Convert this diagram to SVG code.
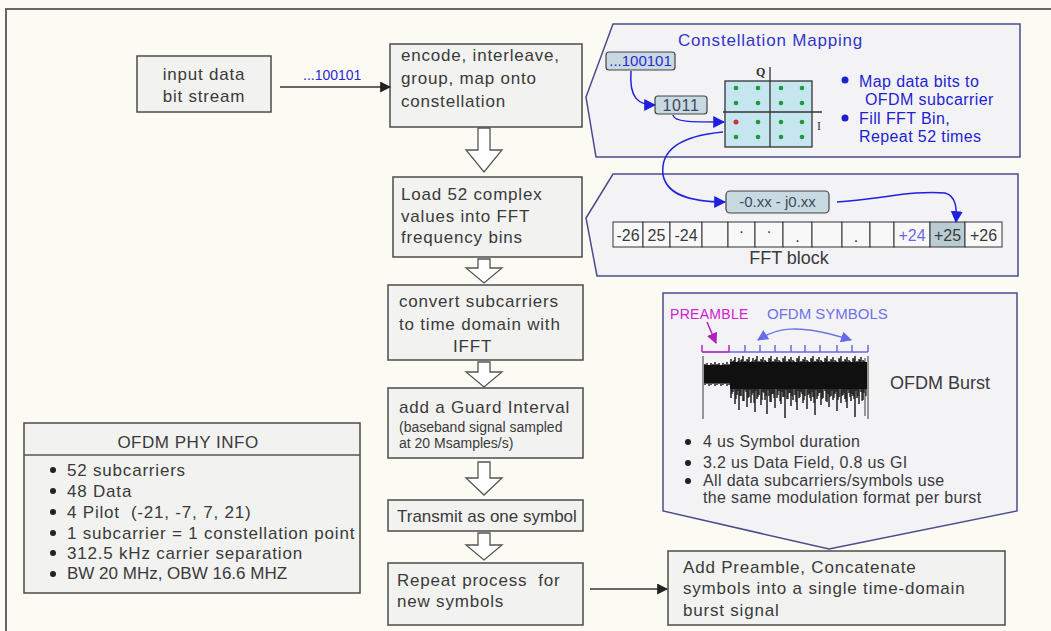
<svg xmlns="http://www.w3.org/2000/svg" width="1051" height="631" viewBox="0 0 1051 631">
<style>
.t{font-family:"Liberation Sans",Arial,sans-serif;fill:#3a3a3a}
.m{font-size:17px;letter-spacing:0.8px}
.box{fill:#f2f2f0;stroke:#555;stroke-width:1.6}
.panel{fill:#f3f3f6;stroke:#4b4b8f;stroke-width:1.5}
.barrow{fill:#fff;stroke:#555;stroke-width:1.3}
.bl{fill:#1f1fd0}
.bcurve{fill:none;stroke:#2020e0;stroke-width:1.5}
.cell{fill:#f8f8f8;stroke:#333;stroke-width:1}
.dot{fill:#1a9a3a}
</style>
<defs>
<marker id="ablue" viewBox="0 0 10 10" refX="9" refY="5" markerWidth="12" markerHeight="12" markerUnits="userSpaceOnUse" orient="auto"><path d="M0,0L10,5L0,10z" fill="#1f1fe0"/></marker>
<marker id="ablack" viewBox="0 0 10 10" refX="9" refY="5" markerWidth="11" markerHeight="11" markerUnits="userSpaceOnUse" orient="auto"><path d="M0,0L10,5L0,10z" fill="#222"/></marker>
<marker id="amag" viewBox="0 0 10 10" refX="9" refY="5" markerWidth="11" markerHeight="11" markerUnits="userSpaceOnUse" orient="auto"><path d="M0,0L10,5L0,10z" fill="#b020c0"/></marker>
<marker id="alb" viewBox="0 0 10 10" refX="9" refY="5" markerWidth="11" markerHeight="11" markerUnits="userSpaceOnUse" orient="auto-start-reverse"><path d="M0,0L10,5L0,10z" fill="#6a6ae8"/></marker>
</defs>
<rect width="1051" height="631" fill="#fbfbf4"/>
<path d="M6,631V9H1051" fill="none" stroke="#666" stroke-width="2"/>

<g id="panel-constellation">
<path class="panel" d="M613,24H1020V157H596L586,97Z"/>
<text class="t" x="678" y="46" style="font-size:17px;letter-spacing:0.8px;fill:#3333cc">Constellation Mapping</text>
<rect x="606" y="52" width="69" height="18" rx="3" fill="#c9d9e1" stroke="#444" stroke-width="1.2"/>
<text class="t" x="640.5" y="66" text-anchor="middle" style="font-size:15px;fill:#2a2ad0">...100101</text>
<rect x="655" y="96" width="52" height="18" rx="3" fill="#c9d9e1" stroke="#444" stroke-width="1.2"/>
<text class="t" x="681" y="111" text-anchor="middle" style="font-size:16px;letter-spacing:0.6px;fill:#3a4a5a">1011</text>
<rect x="725" y="81" width="87" height="66" fill="#c5e5ef" stroke="#333" stroke-width="1.3"/>
<line x1="770" y1="67" x2="770" y2="147" stroke="#333" stroke-width="1.3"/>
<line x1="723" y1="112" x2="822" y2="112" stroke="#333" stroke-width="1.3"/>
<text x="756" y="76" style="font-family:'Liberation Serif',serif;font-size:12px;font-weight:bold;fill:#333">Q</text>
<text x="817" y="130" style="font-family:'Liberation Serif',serif;font-size:12px;fill:#333">I</text>
<g class="dot">
<circle cx="736" cy="88" r="2.3"/><circle cx="758" cy="88" r="2.3"/><circle cx="781" cy="88" r="2.3"/><circle cx="802" cy="88" r="2.3"/>
<circle cx="736" cy="103" r="2.3"/><circle cx="758" cy="103" r="2.3"/><circle cx="781" cy="103" r="2.3"/><circle cx="802" cy="103" r="2.3"/>
<circle cx="758" cy="122" r="2.3"/><circle cx="781" cy="122" r="2.3"/><circle cx="802" cy="122" r="2.3"/>
<circle cx="736" cy="137" r="2.3"/><circle cx="758" cy="137" r="2.3"/><circle cx="781" cy="137" r="2.3"/><circle cx="802" cy="137" r="2.3"/>
</g>
<circle cx="736" cy="122" r="2.5" fill="#d03030"/>
<circle class="bl" cx="845" cy="80" r="3.5"/>
<circle class="bl" cx="845" cy="118" r="3.5"/>
<text class="t" style="font-size:16px;letter-spacing:0.4px;fill:#1f1fd0"><tspan x="859" y="87">Map data bits to</tspan><tspan x="865" y="105">OFDM subcarrier</tspan><tspan x="859" y="124">Fill FFT Bin,</tspan><tspan x="859" y="142">Repeat 52 times</tspan></text>
</g>

<g id="panel-fft">
<path class="panel" d="M613,174H1018V276H597L586,218Z"/>
<rect x="726" y="191" width="103" height="22" rx="4" fill="#c9d9e1" stroke="#444" stroke-width="1.2"/>
<text class="t" x="777.5" y="207" text-anchor="middle" style="font-size:15px;fill:#3a4a5a">-0.xx - j0.xx</text>
<rect class="cell" x="613" y="222" width="30" height="25"/>
<rect class="cell" x="643" y="222" width="27" height="25"/>
<rect class="cell" x="670" y="222" width="32" height="25"/>
<rect class="cell" x="702" y="222" width="26" height="25"/>
<rect class="cell" x="728" y="222" width="27" height="25"/>
<rect class="cell" x="755" y="222" width="28" height="25"/>
<rect class="cell" x="783" y="222" width="29" height="25"/>
<rect class="cell" x="812" y="222" width="30" height="25"/>
<rect class="cell" x="842" y="222" width="28" height="25"/>
<rect class="cell" x="870" y="222" width="24" height="25"/>
<rect class="cell" x="894" y="222" width="36" height="25"/>
<rect x="930" y="222" width="35" height="25" fill="#b9cbd3" stroke="#333" stroke-width="1"/>
<rect class="cell" x="965" y="222" width="37" height="25"/>
<g class="t" style="font-size:16px" text-anchor="middle">
<text x="628" y="241">-26</text><text x="656.5" y="241">25</text><text x="686" y="241">-24</text>
<text x="741.5" y="233">.</text><text x="769" y="233">.</text><text x="797.5" y="242">.</text><text x="856" y="242">.</text>
<text x="912" y="241" style="fill:#6a6ae0">+24</text><text x="947.5" y="241">+25</text><text x="983.5" y="241">+26</text>
</g>
<text class="t" x="789" y="264" text-anchor="middle" style="font-size:18px">FFT block</text>
</g>

<g id="panel-burst">
<path class="panel" d="M663,293H1017V511L829,549L663,511Z"/>
<text class="t" x="670" y="319" style="font-size:14px;letter-spacing:0.3px;fill:#d020d0">PREAMBLE</text>
<text class="t" x="767" y="319" style="font-size:15px;fill:#7070e8">OFDM SYMBOLS</text>
<path d="M707,322L716,343" fill="none" stroke="#b020c0" stroke-width="1.5" marker-end="url(#amag)"/>
<path d="M758,340C775,329 795,322 851,340" fill="none" stroke="#7070e8" stroke-width="1.5" marker-start="url(#alb)" marker-end="url(#alb)"/>
<path d="M702,352H868" stroke="#6a6ae0" stroke-width="1.5"/>
<path d="M702,352H729M702,345V352M729,345V352" stroke="#c030c0" stroke-width="1.6"/>
<path d="M745,345V352M760,345V352M775,345V352M791,345V352M805,345V352M820,345V352M837,345V352M852,345V352M868,345V352" stroke="#6a6ae0" stroke-width="1.5"/>
<path d="M703,356V419M868,356V419M865,358V416" stroke="#777" stroke-width="1.5"/>
<rect x="704" y="365" width="27" height="18" fill="#111"/>
<rect x="730" y="362" width="137" height="27" fill="#111"/>
<path stroke="#111" stroke-width="1.4" d="M705,364V385M707,363V384M709,365V386M711,363V385M713,364V384M715,362V386M717,364V385M719,363V384M721,365V386M723,363V385M725,364V384M727,362V386M729,364V385M731,359V398M733,361V392M735,357V404M737,362V395M739,358V410M741,360V396M743,356V401M745,361V390M747,359V407M749,357V397M751,362V403M753,358V393M755,360V412M757,356V399M759,361V395M761,359V405M763,357V392M765,360V400M767,362V414M769,358V396M771,356V402M773,361V394M775,359V408M777,357V398M779,360V391M781,362V404M783,358V397M785,356V418M787,361V399M789,359V393M791,357V406M793,360V400M795,362V395M797,358V410M799,356V398M801,361V392M803,359V403M805,357V396M807,360V409M809,362V394M811,358V401M813,356V397M815,361V415M817,359V399M819,357V393M821,360V405M823,362V398M825,358V391M827,356V402M829,361V407M831,359V396M833,357V400M835,360V394M837,362V411M839,358V397M841,356V403M843,361V395M845,359V399M847,357V408M849,360V393M851,362V401M853,358V396M855,356V417M857,361V398M859,359V404M861,357V392M863,360V400"/>
<path stroke="#111" stroke-width="1.2" d="M732,363V394M734,360V389M736,364V399M738,361V391M740,365V396M742,359V388M744,362V401M746,364V392M748,360V398M750,363V390M752,361V395M754,365V403M756,359V391M758,362V397M760,364V389M762,360V400M764,363V393M766,361V396M768,365V390M770,359V402M772,362V394M774,364V398M776,360V389M778,363V395M780,361V401M782,365V392M784,359V397M786,362V390M788,364V399M790,360V393M792,363V396M794,361V388M796,365V402M798,359V391M800,362V397M802,364V394M804,360V400M806,363V389M808,361V395M810,365V398M812,359V392M814,362V403M816,364V390M818,360V396M820,363V393M822,361V399M824,365V388M826,359V401M828,362V394M830,364V397M832,360V391M834,363V398M836,361V392M838,365V400M840,359V389M842,362V396M844,364V393M846,360V402M848,363V390M850,361V397M852,365V394M854,359V399M856,362V391M858,364V396M860,360V388M862,363V401M864,361V393M866,362V396"/>
<text class="t" x="890" y="389" style="font-size:18px">OFDM Burst</text>
<circle cx="688" cy="442" r="3" fill="#222"/><circle cx="688" cy="463" r="3" fill="#222"/><circle cx="688" cy="481" r="3" fill="#222"/>
<text class="t" style="font-size:16px;letter-spacing:0.35px"><tspan x="703" y="447">4 us Symbol duration</tspan><tspan x="703" y="468">3.2 us Data Field, 0.8 us GI</tspan><tspan x="703" y="486">All data subcarriers/symbols use</tspan><tspan x="703" y="503">the same modulation format per burst</tspan></text>
</g>

<g id="node-input">
<rect class="box" x="137" y="56" width="134" height="56"/>
<text class="t m" text-anchor="middle"><tspan x="204" y="80">input data</tspan><tspan x="204" y="102">bit stream</tspan></text>
</g>
<g id="node-encode">
<rect class="box" x="390" y="44" width="192" height="83"/>
<text class="t m"><tspan x="401" y="61">encode, interleave,</tspan><tspan x="401" y="84">group, map onto</tspan><tspan x="401" y="107">constellation</tspan></text>
</g>
<g id="node-load">
<rect class="box" x="393" y="177" width="189" height="80"/>
<text class="t m"><tspan x="401" y="200">Load 52 complex</tspan><tspan x="401" y="222">values into FFT</tspan><tspan x="401" y="243">frequency bins</tspan></text>
</g>
<g id="node-ifft">
<rect class="box" x="388" y="285" width="195" height="75"/>
<text class="t m"><tspan x="399" y="307">convert subcarriers</tspan><tspan x="399" y="330">to time domain with</tspan><tspan x="453" y="352">IFFT</tspan></text>
</g>
<g id="node-guard">
<rect class="box" x="388" y="388" width="195" height="70"/>
<text class="t m" x="399" y="413">add a Guard Interval</text>
<text class="t" style="font-size:14px"><tspan x="399" y="432">(baseband signal sampled</tspan><tspan x="399" y="448">at 20 Msamples/s)</tspan></text>
</g>
<g id="node-transmit">
<rect class="box" x="388" y="500" width="195" height="31"/>
<text class="t" x="397" y="522" style="font-size:17px">Transmit as one symbol</text>
</g>
<g id="node-repeat">
<rect class="box" x="388" y="563" width="195" height="62"/>
<text class="t m" xml:space="preserve"><tspan x="397" y="586">Repeat process  for</tspan><tspan x="397" y="607">new symbols</tspan></text>
</g>
<g id="node-burst">
<rect class="box" x="668" y="551" width="337" height="74"/>
<text class="t m"><tspan x="683" y="573">Add Preamble, Concatenate</tspan><tspan x="683" y="594">symbols into a single time-domain</tspan><tspan x="683" y="616">burst signal</tspan></text>
</g>
<g id="node-phyinfo">
<rect class="box" x="24" y="423" width="336" height="170"/>
<line x1="24" y1="455" x2="360" y2="455" stroke="#555" stroke-width="1.6"/>
<text class="t" x="188" y="448" text-anchor="middle" style="font-size:17px;letter-spacing:0.5px">OFDM PHY INFO</text>
<g fill="#222"><circle cx="53" cy="470" r="3"/><circle cx="53" cy="491" r="3"/><circle cx="53" cy="512" r="3"/><circle cx="53" cy="533" r="3"/><circle cx="53" cy="553" r="3"/><circle cx="53" cy="574" r="3"/></g>
<text class="t m" xml:space="preserve"><tspan x="67" y="476">52 subcarriers</tspan><tspan x="67" y="497">48 Data</tspan><tspan x="67" y="518">4 Pilot  (-21, -7, 7, 21)</tspan><tspan x="67" y="539">1 subcarrier = 1 constellation point</tspan><tspan x="67" y="559">312.5 kHz carrier separation</tspan></text>
<text class="t" x="67" y="579" style="font-size:17px">BW 20 MHz, OBW 16.6 MHZ</text>
</g>

<g id="connectors">
<line x1="280" y1="87" x2="390" y2="87" stroke="#333" stroke-width="1.5" marker-end="url(#ablack)"/>
<text class="t" x="303" y="80" style="font-size:14px;fill:#2a2ad0">...100101</text>
<line x1="590" y1="589" x2="667" y2="589" stroke="#333" stroke-width="1.5" marker-end="url(#ablack)"/>
<path class="barrow" d="M478,128H490V150H502L484,172L466,150H478Z"/>
<path class="barrow" d="M478,259H490V268H502L484,283L466,268H478Z"/>
<path class="barrow" d="M478,362H490V372H502L484,387L466,372H478Z"/>
<path class="barrow" d="M478,462H490V478H502L484,495L466,478H478Z"/>
<path class="barrow" d="M478,533H490V545H502L484,560L466,545H478Z"/>
<path class="bcurve" d="M631,71C629,98 638,105 655,105" marker-end="url(#ablue)"/>
<path class="bcurve" d="M673,115C674,122 690,122 724,122" marker-end="url(#ablue)"/>
<path class="bcurve" d="M723,132C680,136 660,150 663,175C667,195 690,202 725,202" marker-end="url(#ablue)"/>
<path class="bcurve" d="M837,202C880,199 915,190 945,193C956,196 957,208 956,222" marker-end="url(#ablue)"/>
</g>
</svg>
